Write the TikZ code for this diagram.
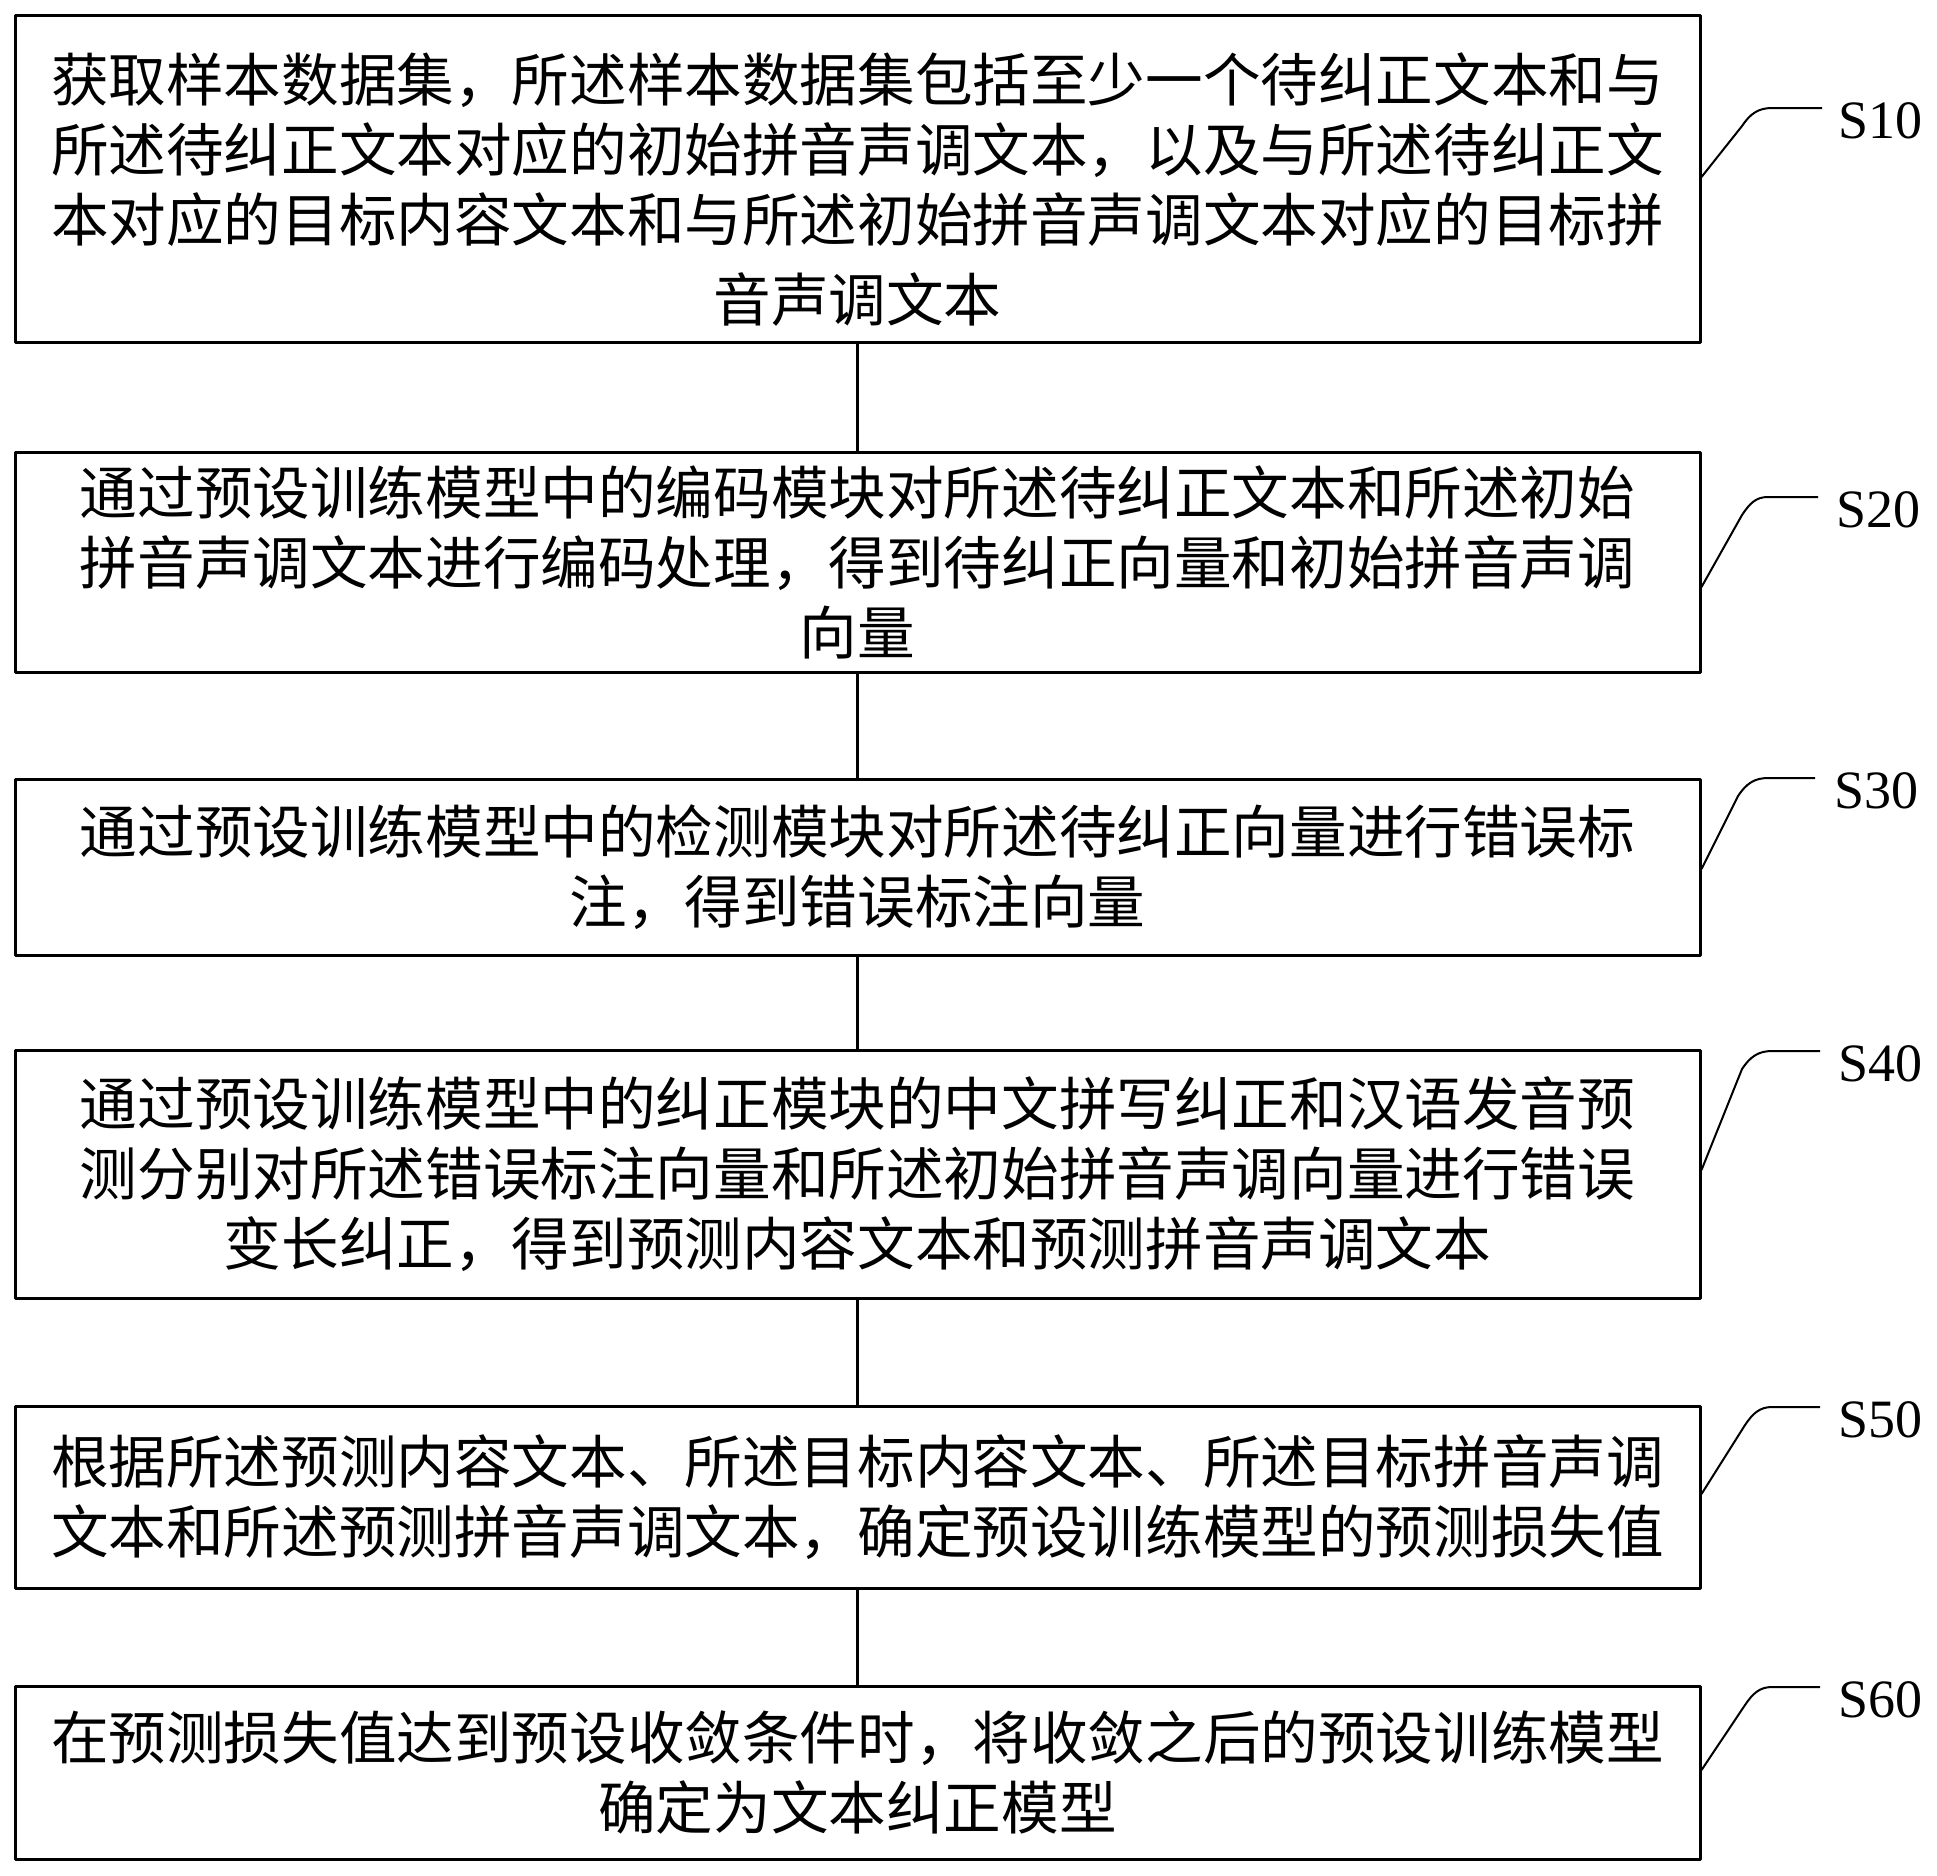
\documentclass[tikz,border=0pt]{standalone}
\usepackage{fontspec}
\newfontfamily\cjkfont{Noto Sans CJK SC}
\newfontfamily\stepfont{Liberation Serif}

\begin{document}
\begin{tikzpicture}[x=0.5pt,y=-0.5pt,line join=bevel,
  box/.style={draw, line width=1.5pt, minimum width=842.5pt, inner sep=0pt, align=center,
    font=\cjkfont\fontsize{28.8pt}{35pt}\selectfont},
  stepno/.style={anchor=west, inner sep=0pt, font=\stepfont\fontsize{27pt}{30pt}\selectfont},
  link/.style={line width=1.2pt},
  leader/.style={line width=1pt}]
\useasboundingbox (0,0) rectangle (1937,1875);
%%
  % Node: b1
  \node [box, minimum height=163.5pt] (b1) at (857.5,178.5) {\rule{0pt}{35pt}获取样本数据集，所述样本数据集包括至少一个待纠正文本和与\\
    所述待纠正文本对应的初始拼音声调文本，以及与所述待纠正文\\
    本对应的目标内容文本和与所述初始拼音声调文本对应的目标拼\\[5pt]
    音声调文本};
  % Node: b2
  \node [box, minimum height=110pt] (b2) at (857.5,562) {通过预设训练模型中的编码模块对所述待纠正文本和所述初始\\
    拼音声调文本进行编码处理，得到待纠正向量和初始拼音声调\\
    向量};
  % Node: b3
  \node [box, minimum height=88pt] (b3) at (857.5,867) {通过预设训练模型中的检测模块对所述待纠正向量进行错误标\\
    注，得到错误标注向量};
  % Node: b4
  \node [box, minimum height=124pt] (b4) at (857.5,1174) {通过预设训练模型中的纠正模块的中文拼写纠正和汉语发音预\\
    测分别对所述错误标注向量和所述初始拼音声调向量进行错误\\
    变长纠正，得到预测内容文本和预测拼音声调文本};
  % Node: b5
  \node [box, minimum height=91pt] (b5) at (857.5,1497) {根据所述预测内容文本、所述目标内容文本、所述目标拼音声调\\
    文本和所述预测拼音声调文本，确定预设训练模型的预测损失值};
  % Node: b6
  \node [box, minimum height=86.5pt] (b6) at (857.5,1772.5) {在预测损失值达到预设收敛条件时，将收敛之后的预设训练模型\\
    确定为文本纠正模型};
%
  % Edge: b1 -- b2 -- b3 -- b4 -- b5 -- b6
  \draw [link] (b1) -- (b2);
  \draw [link] (b2) -- (b3);
  \draw [link] (b3) -- (b4);
  \draw [link] (b4) -- (b5);
  \draw [link] (b5) -- (b6);
%
  % Step labels
  \node [stepno] (s10) at (1838,121) {S10};
  \node [stepno] (s20) at (1836,510) {S20};
  \node [stepno] (s30) at (1834,791) {S30};
  \node [stepno] (s40) at (1838,1064) {S40};
  \node [stepno] (s50) at (1838,1420) {S50};
  \node [stepno] (s60) at (1838,1700) {S60};
  \coordinate (e10) at (1822,108);
  \coordinate (e20) at (1818,497);
  \coordinate (e30) at (1815,778);
  \coordinate (e40) at (1820,1051);
  \coordinate (e50) at (1820,1407);
  \coordinate (e60) at (1820,1687);
  % Edge: leaders
  \draw [leader] (b1.east |- 0,177) -- (1742,126) .. controls (1750,114) and (1758,108) .. (1772,108) -- (e10);
  \draw [leader] (b2.east |- 0,587) -- (1742,515) .. controls (1750,503) and (1756,497) .. (1768,497) -- (e20);
  \draw [leader] (b3.east |- 0,869) -- (1738,796) .. controls (1746,784) and (1754,778) .. (1768,778) -- (e30);
  \draw [leader] (b4.east |- 0,1170) -- (1742,1069) .. controls (1750,1057) and (1758,1051) .. (1772,1051) -- (e40);
  \draw [leader] (b5.east |- 0,1494) -- (1745,1425) .. controls (1753,1413) and (1760,1407) .. (1772,1407) -- (e50);
  \draw [leader] (b6.east |- 0,1770) -- (1745,1705) .. controls (1753,1693) and (1760,1687) .. (1772,1687) -- (e60);
%
\end{tikzpicture}
\end{document}
